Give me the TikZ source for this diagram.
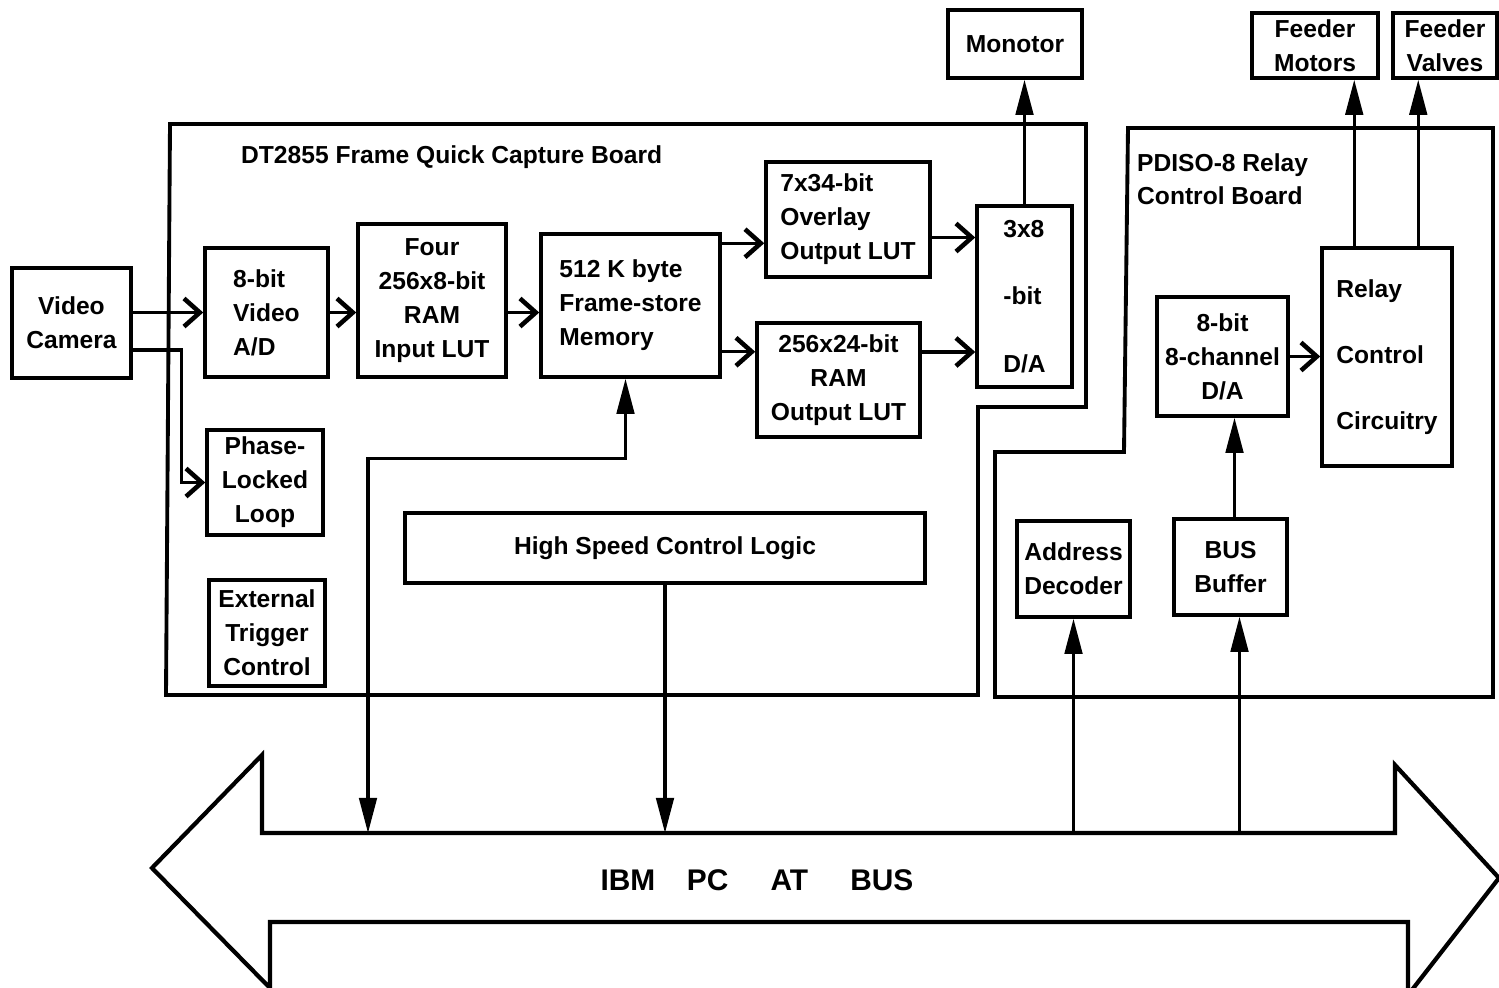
\documentclass[tikz,border=0pt]{standalone}
\usepackage{fontspec}
\setmainfont{Liberation Sans}
\newfontfamily\lab{Liberation Sans}[UprightFont={* Bold}]
\usetikzlibrary{arrows.meta,calc}
\begin{document}
\begin{tikzpicture}[x=0.02cm,y=-0.02cm,
  every node/.style={font=\lab\fontsize{14}{19.3}\selectfont},
  box/.style={draw, line width=2pt, inner sep=0pt, align=center},
  rect/.style n args={4}{minimum width={(#3-#1)*0.02cm}, minimum height={(#4-#2)*0.02cm}, at={({(#1+#3)/2},{(#2+#4)/2})}},
  board/.style={draw, line width=2.2pt, line join=miter},
  chev/.style={line width=1.8pt, -{Straight Barb[length=9pt,width=16pt,line width=2.6pt]}},
  fat/.style={line width=1.8pt, -{Triangle[length=20pt,width=10pt]}},
  fatboth/.style={line width=1.8pt, {Triangle[length=20pt,width=10pt]}-{Triangle[length=20pt,width=10pt]}}]
\useasboundingbox (0,0) rectangle (1499,988);
\clip (0,0) rectangle (1499,988);
% boards
\draw[board] (170,124) -- (1086,124) -- (1086,407) -- (978,407) -- (978,695) -- (166,695) -- cycle;
\draw[board] (1128,128) -- (1493,128) -- (1493,697) -- (995,697) -- (995,452) -- (1124,452) -- cycle;
\node[anchor=west] (t1) at (235,157) {DT2855 Frame Quick Capture Board};
\node[anchor=north west, align=left] (t2) at (1131,147) {PDISO-8 Relay\\Control Board};
% bus
\draw[line width=2.4pt, line join=miter] (152,868) -- (262,755) -- (262,833) -- (1395,833) -- (1395,765) -- (1499,878) -- (1408,995) -- (1408,922) -- (270,922) -- (270,988) -- cycle;
\node (bus) at (757,880) {\fontsize{17}{20}\selectfont IBM\hspace*{18pt}PC\hspace*{24pt}AT\hspace*{24pt}BUS};
\coordinate (bustop) at (0,833);
\coordinate (busL) at (368,833);
% boxes
\node[box, rect={12}{268}{131}{378}] (cam) {Video\\Camera};
\node[box, align=left, rect={205}{248}{328}{377}] (ad) {8-bit\\Video\\A/D};
\node[box, rect={358}{224}{506}{377}] (inlut) {Four\\256x8-bit\\RAM\\Input LUT};
\node[box, align=left, rect={541}{234}{720}{377}] (mem) {512 K byte\\Frame-store\\Memory};
\node[box, align=left, rect={766}{162}{930}{277}] (ovl) {7x34-bit\\Overlay\\Output LUT};
\node[box, rect={757}{323}{920}{437}] (outlut) {256x24-bit\\RAM\\Output LUT};
\node[box, align=left, rect={977}{206}{1072}{387}, font=\lab\fontsize{14}{38.6}\selectfont] (da) {3x8\\-bit\\D/A};
\node[box, rect={948}{10}{1082}{78}] (mon) {Monotor};
\node[box, rect={207}{430}{323}{535}] (pll) {Phase-\\Locked\\Loop};
\node[box, rect={209}{580}{325}{686}] (etc) {External\\Trigger\\Control};
\node[box, rect={405}{513}{925}{583}] (hscl) {High Speed Control Logic};
\node[box, rect={1157}{297}{1288}{416}] (dac8) {8-bit\\8-channel\\D/A};
\node[box, align=left, rect={1322}{248}{1452}{466}, font=\lab\fontsize{14}{37.4}\selectfont] (relay) {Relay\\Control\\Circuitry};
\node[box, rect={1017}{521}{1130}{617}] (addr) {Address\\Decoder};
\node[box, rect={1174}{519}{1287}{615}] (buf) {BUS\\Buffer};
\node[box, rect={1252}{13}{1378}{78}] (fmot) {Feeder\\Motors};
\node[box, rect={1393}{13}{1497}{78}] (fval) {Feeder\\Valves};
% helper points
\coordinate (memA) at ($(mem.north east)+(0,11)$);
\coordinate (memB) at ($(mem.south east)+(0,-27)$);
\coordinate (ovlA) at ($(ovl.east)+(0,18)$);
\coordinate (outA) at ($(outlut.east)+(0,-28)$);
\coordinate (camB) at ($(cam.east)+(0,27)$);
\coordinate (memS) at ($(mem.south)+(-5,0)$);
\coordinate (bufS) at ($(buf.south)+(9,0)$);
\coordinate (bufN) at ($(buf.north)+(4,0)$);
\coordinate (relA) at ($(relay.north west)+(34,0)$);
\coordinate (relB) at ($(relay.north west)+(98,0)$);
% connectors
\draw[chev] (cam.east |- ad.west) -- (ad.west);
\draw[chev] (camB) -- ++(49,0) |- (pll.west);
\draw[chev] (ad.east) -- (ad.east -| inlut.west);
\draw[chev] (ad.east -| inlut.east) -- (ad.east -| mem.west);
\draw[chev] (memA) -- (memA -| ovl.west);
\draw[chev] (memB) -- (memB -| outlut.west);
\draw[chev] (ovlA) -- (ovlA -| da.west);
\draw[chev] (outA) -- (outA -| da.west);
\draw[fat] (da.north) -- (da.north |- mon.south);
\draw[fatboth] (memS) -- ++(0,80) -| (busL);
\draw[fat] (hscl.south) -- (hscl.south |- bustop);
\draw[fat] (addr.south |- bustop) -- (addr.south);
\draw[fat] (bufS |- bustop) -- (bufS);
\draw[fat] (bufN) -- (bufN |- dac8.south);
\draw[chev] (dac8.east) -- (dac8.east -| relay.west);
\draw[fat] (relA) -- (relA |- fmot.south);
\draw[fat] (relB) -- (relB |- fval.south);
\end{tikzpicture}
\end{document}
